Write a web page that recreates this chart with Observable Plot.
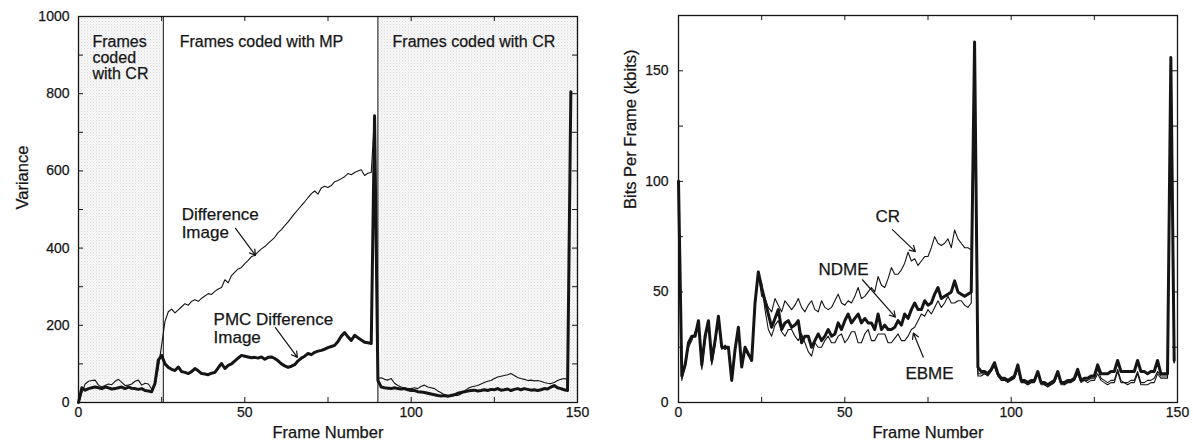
<!DOCTYPE html>
<html>
<head>
<meta charset="utf-8">
<script src="https://cdn.jsdelivr.net/npm/d3@7"></script>
<script src="https://cdn.jsdelivr.net/npm/@observablehq/plot@0.6"></script>
<style>
  body { margin: 0; background: #fff; }
  #figure { position: relative; width: 1193px; height: 444px; }
  #left { position: absolute; left: 0; top: 0; }
  #right { position: absolute; left: 600px; top: 0; }
  #figure svg text { stroke: #151515; stroke-width: 0.25px; }
</style>
</head>
<body>
<div id="figure"><div id="left"></div><div id="right"></div></div>
<script>
// ---------- Left panel: variance per frame (frames 0..148) ----------
const differenceImage = [
  0,25,48,55,57,58,45,40,44,48, 46,55,60,52,44,45,48,55,58,45,
  50,48,35,45,90,150,210,235,242,232, 240,248,256,252,262,266,262,270,276,282,
  280,288,294,298,318,310,329,338,346,350, 360,368,378,381,390,398,404,412,420,428,
  440,448,458,468,479,490,500,510,520,531, 541,548,540,556,560,557,562,572,575,580,
  585,593,590,596,600,603,588,594,596,740, 62,64,60,58,62,50,44,40,38,36,
  36,38,36,42,45,40,38,36,30,25, 20,18,16,18,18,22,30,36,40,42,
  44,48,52,55,57,62,66,68,70,72, 75,70,65,62,60,57,58,56,57,55,
  52,50,49,52,57,60,62,60,800
];
const pmcDifferenceImage = [
  0,38,32,36,38,40,38,36,40,38, 35,36,38,40,36,40,37,36,34,36,
  31,30,28,50,110,122,100,91,86,83, 92,80,78,75,80,88,82,75,74,72,
  76,78,90,101,88,96,100,108,115,122, 120,118,116,117,115,118,112,117,118,114,
  108,100,95,91,94,98,108,115,120,127, 124,130,133,135,138,142,145,148,158,172,
  181,170,161,174,168,162,156,155,153,743, 57,40,38,37,36,38,36,35,36,33,
  31,31,28,27,26,24,22,20,18,17, 18,16,18,20,24,26,28,30,31,32,
  30,31,33,31,34,33,36,32,33,35, 31,34,36,33,36,34,32,33,31,33,
  36,35,40,44,38,36,33,31,805
];
// coding regions of the sequence
const regionStart = [0, 25.5, 90];
const regionEnd = [25.5, 90, 150];
const regionCoder = ["CR", "MP", "CR"];
const regionLabel = ["Frames\ncoded\nwith CR", "Frames coded with MP", "Frames coded with CR"];
const regionLabelX = [4.2, 30.4, 94.4];
const regionLabelY = 950;

const leftXTicks = [0, 25, 50, 75, 100, 125, 150];
const leftXLabels = [0, 50, 100, 150];
const leftYTicks = [0, 100, 200, 300, 400, 500, 600, 700, 800, 900, 1000];
const leftYLabels = [0, 200, 400, 600, 800, 1000];

const leftNotes = [
  {text: "Difference\nImage", x: 31, y: 505, ax1: 47.2, ay1: 451, ax2: 53.2, ay2: 381},
  {text: "PMC Difference\nImage", x: 40.6, y: 233, ax1: 59.2, ay1: 194, ax2: 65.8, ay2: 117}
];

// ---------- Right panel: bits per frame in kbits (frames 0..149) ----------
const crBits = [
  100,10,18,25,28,32,36,15,28,36, 17,26,38,24,26,24,12,24,33,17,
  24,21,20,44,58,48,47,43,41,47, 44,41,46,44,42,44,47,43,41,44,
  46,42,41,46,43,42,43,46,49,45, 44,46,45,48,52,47,48,50,52,50,
  57,53,52,56,61,58,58,60,63,68, 64,65,62,64,66,66,70,75,72,71,
  72,74,70,78,74,72,70,70,69,162, 12,12,13,12,14,17,12,10,10,9,
  10,11,15,9,9,8,9,9,13,8, 8,7,8,9,13,8,8,9,9,10,
  13,9,10,9,10,10,13,10,9,8, 9,9,14,9,9,8,9,9,13,8,
  8,8,9,9,13,11,11,11,154,18
];
const ndmeBits = [
  100,12,17,27,30,30,37,17,30,37, 19,28,39,25,25,25,10,24,34,16,
  25,22,19,45,59,52,46,40,34,38, 42,33,36,37,34,35,37,27,30,30,
  25,28,31,28,30,33,30,31,36,33, 37,40,36,38,40,36,38,36,36,33,
  40,33,35,33,33,34,37,35,40,38, 42,45,42,42,46,44,45,49,52,47,
  48,49,50,55,50,49,48,49,50,163, 16,14,14,13,15,18,13,11,11,10,
  11,12,17,10,10,9,10,10,14,9, 9,8,9,10,14,9,9,10,10,11,
  15,10,11,11,12,12,17,13,13,13, 14,14,19,14,14,14,14,14,19,14,
  14,13,14,14,19,13,13,13,156,19
];
const ebmeBits = [
  100,11,16,26,29,31,36,16,29,36, 18,27,38,25,24,25,11,23,33,16,
  24,22,19,44,58,54,42,33,30,35, 37,32,30,33,33,30,28,31,27,23,
  21,27,25,25,28,30,27,27,30,31, 27,29,32,32,27,27,31,33,28,28,
  31,31,31,27,27,29,31,28,28,30, 33,34,37,40,39,42,40,43,46,43,
  45,48,45,45,46,46,44,43,45,160, 13,13,13,13,15,16,12,11,10,10,
  10,11,16,10,9,8,9,10,13,9, 8,8,8,9,13,9,8,9,10,10,
  14,10,10,10,11,11,15,11,10,9, 10,10,15,10,9,9,10,10,14,9,
  9,10,10,11,14,12,12,12,154,18
];
const rightXTicks = [0, 25, 50, 75, 100, 125, 150];
const rightXLabels = [0, 50, 100, 150];
const rightYTicks = [0, 25, 50, 75, 100, 125, 150, 175];
const rightYLabels = [0, 50, 100, 150];

const rightNotes = [
  {text: "CR", x: 59.2, y: 87.3, ax1: 64.3, ay1: 78.2, ax2: 71.2, ay2: 68.2},
  {text: "NDME", x: 42.1, y: 63.2, ax1: 55.3, ay1: 55.5, ax2: 65.2, ay2: 38.6},
  {text: "EBME", x: 68.2, y: 15.9, ax1: 73.6, ay1: 20.5, ax2: 70.6, ay2: 31.4}
];

// ---------- shared styling ----------
const FONT = '"Liberation Sans", Arial, Helvetica, sans-serif';
const INK = "#151515";
const THIN = 1.1;
const THICK = 3;
const plain = d3.format("d");

function addStipple(svg, id) {
  svg.insertAdjacentHTML("afterbegin",
    `<defs><pattern id="${id}" width="3" height="3" patternUnits="userSpaceOnUse">` +
    `<rect width="3" height="3" fill="#f8f8f8"/>` +
    `<rect x="0" y="0" width="1" height="1" fill="#dadada"/>` +
    `<rect x="1.5" y="1.5" width="1" height="1" fill="#e6e6e6"/>` +
    `</pattern></defs>`);
}

const regions = regionStart.map((s, i) => ({start: s, end: regionEnd[i], coder: regionCoder[i],
  label: regionLabel[i], lx: regionLabelX[i]}));

// ---------- left chart ----------
const left = Plot.plot({
  width: 590, height: 444,
  marginLeft: 78, marginRight: 13, marginTop: 16, marginBottom: 42,
  style: {fontFamily: FONT, fontSize: "14px", color: INK, background: "transparent"},
  x: {domain: [0, 150]},
  y: {domain: [0, 1000]},
  marks: [
    Plot.rect(regions.filter(r => r.coder === "CR"), {x1: "start", x2: "end", fill: "url(#stippleL)"}),
    Plot.ruleX(regionStart.slice(1), {stroke: INK, strokeWidth: 1}),
    Plot.line(differenceImage, {x: (d, i) => i, y: d => d, stroke: INK, strokeWidth: THIN}),
    Plot.line(pmcDifferenceImage, {x: (d, i) => i, y: d => d, stroke: INK, strokeWidth: THICK}),
    Plot.ruleX(leftXTicks, {y1: 0, y2: 13, stroke: INK}),
    Plot.ruleX(leftXTicks, {y1: 987, y2: 1000, stroke: INK}),
    Plot.ruleY(leftYTicks, {x1: 0, x2: 1.5, stroke: INK}),
    Plot.ruleY(leftYTicks, {x1: 148.5, x2: 150, stroke: INK}),
    Plot.axisX({ticks: leftXLabels, tickFormat: plain, tickSize: 0, tickPadding: 5, label: null}),
    Plot.axisY({ticks: leftYLabels, tickFormat: plain, tickSize: 0, tickPadding: 9, label: null}),
    Plot.frame({stroke: INK, strokeWidth: 1.3}),
    Plot.text(regions, {x: "lx", y: regionLabelY, text: "label", textAnchor: "start",
      lineAnchor: "top", fontSize: 16, lineHeight: 1}),
    Plot.text(leftNotes, {x: "x", y: "y", text: "text", textAnchor: "start",
      lineAnchor: "top", fontSize: 17, lineHeight: 1.05}),
    Plot.arrow(leftNotes, {x1: "ax1", y1: "ay1", x2: "ax2", y2: "ay2",
      stroke: INK, strokeWidth: 1.2, headLength: 8}),
    Plot.text(["Frame Number"], {text: d => d, frameAnchor: "bottom", dy: 35,
      lineAnchor: "bottom", fontSize: 16.5}),
    Plot.text(["Variance"], {text: d => d, frameAnchor: "left", rotate: -90, dx: -56,
      fontSize: 16.5})
  ]
});
addStipple(left, "stippleL");
document.getElementById("left").appendChild(left);

// ---------- right chart ----------
const right = Plot.plot({
  width: 593, height: 444,
  marginLeft: 78, marginRight: 16, marginTop: 15, marginBottom: 42,
  style: {fontFamily: FONT, fontSize: "14px", color: INK, background: "transparent"},
  x: {domain: [0, 150]},
  y: {domain: [0, 175]},
  marks: [
    Plot.line(crBits, {x: (d, i) => i, y: d => d, stroke: INK, strokeWidth: THIN}),
    Plot.line(ebmeBits, {x: (d, i) => i, y: d => d, stroke: INK, strokeWidth: THIN}),
    Plot.line(ndmeBits, {x: (d, i) => i, y: d => d, stroke: INK, strokeWidth: THICK}),
    Plot.ruleX(rightXTicks, {y1: 0, y2: 2.3, stroke: INK}),
    Plot.ruleX(rightXTicks, {y1: 172.7, y2: 175, stroke: INK}),
    Plot.ruleY(rightYTicks, {x1: 0, x2: 1.5, stroke: INK}),
    Plot.ruleY(rightYTicks, {x1: 148.5, x2: 150, stroke: INK}),
    Plot.axisX({ticks: rightXLabels, tickFormat: plain, tickSize: 0, tickPadding: 5, label: null}),
    Plot.axisY({ticks: rightYLabels, tickFormat: plain, tickSize: 0, tickPadding: 10, label: null}),
    Plot.frame({stroke: INK, strokeWidth: 1.3}),
    Plot.text(rightNotes, {x: "x", y: "y", text: "text", textAnchor: "start",
      lineAnchor: "top", fontSize: 17}),
    Plot.arrow(rightNotes, {x1: "ax1", y1: "ay1", x2: "ax2", y2: "ay2",
      stroke: INK, strokeWidth: 1.2, headLength: 8}),
    Plot.text(["Frame Number"], {text: d => d, frameAnchor: "bottom", dy: 35,
      lineAnchor: "bottom", fontSize: 16.5}),
    Plot.text(["Bits Per Frame (kbits)"], {text: d => d, frameAnchor: "left", rotate: -90, dx: -48,
      fontSize: 16.5})
  ]
});
document.getElementById("right").appendChild(right);
</script>
</body>
</html>
